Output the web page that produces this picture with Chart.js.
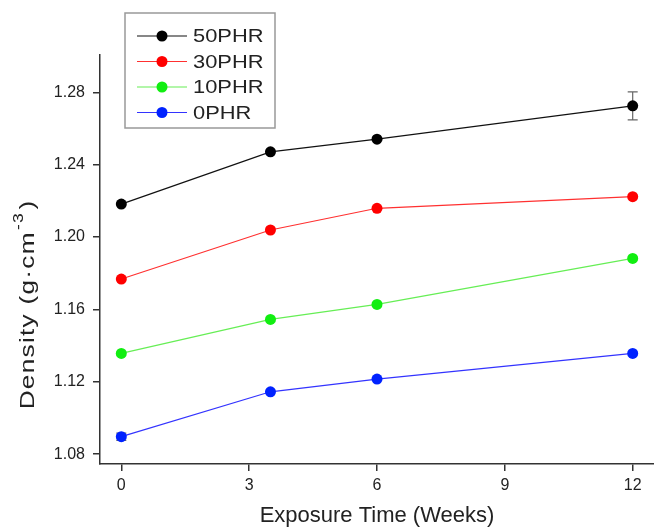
<!DOCTYPE html>
<html>
<head>
<meta charset="utf-8">
<script src="https://cdn.jsdelivr.net/npm/chart.js@4.4.1/dist/chart.umd.min.js"></script>
<style>
  html, body { margin: 0; padding: 0; background: #fff; }
  #wrap { width: 654px; height: 530px; }
</style>
</head>
<body>
<div id="wrap"><canvas id="densityChart"></canvas></div>
<script>
// exposure time (weeks) and density readings per PHR level
const weeks = [0, 3.5, 6, 12];
const seriesNames = ['50PHR', '30PHR', '10PHR', '0PHR'];
const phr50 = [1.2182, 1.2471, 1.2541, 1.2725];
const phr30 = [1.1768, 1.2039, 1.2159, 1.2223];
const phr10 = [1.1357, 1.1545, 1.1628, 1.1882];
const phr0 = [1.0897, 1.1145, 1.1215, 1.1357];
const err50 = [0, 0, 0, 0.0077];
const err30 = [0, 0, 0, 0];
const err10 = [0, 0, 0, 0];
const err0 = [0.002, 0, 0, 0];
const xTicks = [0, 3, 6, 9, 12];
const yTicks = [1.08, 1.12, 1.16, 1.20, 1.24, 1.28];

const lineColors = ['#111111', '#ff3030', '#66ee55', '#3333ff'];
const pointColors = ['#000000', '#ff0000', '#11ee11', '#0022ff'];
const allValues = [phr50, phr30, phr10, phr0];
const allErrors = [err50, err30, err10, err0];
const FONT = "'Liberation Sans', Arial, sans-serif";

const datasets = allValues.map((vals, i) => ({
  label: seriesNames[i],
  data: weeks.map((w, j) => ({ x: w, y: vals[j] })),
  borderColor: lineColors[i],
  borderWidth: 1.2,
  backgroundColor: pointColors[i],
  pointBackgroundColor: pointColors[i],
  pointBorderColor: pointColors[i],
  pointRadius: 5.5,
  pointBorderWidth: 0,
  tension: 0,
  fill: false,
}));

// error bars, drawn under the markers
const errorBars = {
  id: 'errorBars',
  beforeDatasetsDraw(chart) {
    const ctx = chart.ctx;
    const xs = chart.scales.x, ys = chart.scales.y;
    ctx.save();
    ctx.strokeStyle = '#666';
    ctx.lineWidth = 1.2;
    allValues.forEach((vals, i) => {
      vals.forEach((v, j) => {
        const e = allErrors[i][j];
        if (!e) return;
        const px = xs.getPixelForValue(weeks[j]);
        const top = ys.getPixelForValue(v + e);
        const bot = ys.getPixelForValue(v - e);
        ctx.beginPath();
        ctx.moveTo(px, top); ctx.lineTo(px, bot);
        ctx.moveTo(px - 5, top); ctx.lineTo(px + 5, top);
        ctx.moveTo(px - 5, bot); ctx.lineTo(px + 5, bot);
        ctx.stroke();
      });
    });
    ctx.restore();
  }
};

// boxed legend with line + marker samples, and the y axis title
const decorations = {
  id: 'decorations',
  afterDraw(chart) {
    const ctx = chart.ctx;
    ctx.save();
    // legend box
    ctx.fillStyle = '#fff';
    ctx.fillRect(125, 13, 150, 115);
    ctx.strokeStyle = '#999';
    ctx.lineWidth = 1.5;
    ctx.strokeRect(125, 13, 150, 115);
    seriesNames.forEach((name, i) => {
      const y = 36 + i * 25.5;
      ctx.strokeStyle = lineColors[i];
      ctx.lineWidth = 1.2;
      ctx.beginPath();
      ctx.moveTo(137, y); ctx.lineTo(187, y);
      ctx.stroke();
      ctx.fillStyle = pointColors[i];
      ctx.beginPath();
      ctx.arc(162, y, 5.5, 0, Math.PI * 2);
      ctx.fill();
      ctx.save();
      ctx.translate(193, y + 1);
      ctx.scale(1.15, 1);
      ctx.fillStyle = '#222';
      ctx.font = '19px ' + FONT;
      ctx.textAlign = 'left';
      ctx.textBaseline = 'middle';
      ctx.fillText(name, 0, 0);
      ctx.restore();
    });

    // y title: Density (g·cm-3) with superscript, stretched along its length
    const main1 = 'Density (g\u00b7cm', sup = '-3', main2 = ')';
    ctx.letterSpacing = '1px';
    ctx.font = '21px ' + FONT;
    const w1 = ctx.measureText(main1).width;
    const w3 = ctx.measureText(main2).width;
    ctx.font = '14px ' + FONT;
    const w2 = ctx.measureText(sup).width + 2;
    const total = w1 + w2 + w3;
    ctx.translate(28, 305);
    ctx.rotate(-Math.PI / 2);
    ctx.scale(1.25, 1);
    ctx.fillStyle = '#222';
    ctx.textAlign = 'left';
    ctx.textBaseline = 'middle';
    let cx = -total / 2;
    ctx.font = '21px ' + FONT;
    ctx.fillText(main1, cx, 0);
    cx += w1 + 1;
    ctx.font = '14px ' + FONT;
    ctx.fillText(sup, cx, -9);
    cx += w2;
    ctx.font = '21px ' + FONT;
    ctx.fillText(main2, cx, 0);
    ctx.restore();
  }
};

new Chart(document.getElementById('densityChart'), {
  type: 'line',
  data: { datasets },
  options: {
    responsive: true,
    maintainAspectRatio: false,
    animation: false,
    layout: { autoPadding: false, padding: { top: 55, right: 0, left: 0, bottom: 0 } },
    plugins: {
      legend: { display: false },
      tooltip: { enabled: false },
    },
    scales: {
      x: {
        type: 'linear',
        min: -0.5,
        max: 12.5,
        afterBuildTicks: s => { s.ticks = xTicks.map(v => ({ value: v })); },
        afterFit: s => { s.height = 66; s.paddingLeft = 0; s.paddingRight = 0; },
        grid: { display: true, drawOnChartArea: false, tickLength: 7, color: '#333', lineWidth: 1.5 },
        border: { display: true, color: '#333', width: 1.5 },
        ticks: { font: { family: FONT, size: 16 }, color: '#222', padding: 5, maxRotation: 0 },
        title: {
          display: true,
          text: 'Exposure Time (Weeks)',
          font: { family: FONT, size: 22 },
          color: '#222',
          padding: { top: 0, bottom: 1 },
        },
      },
      y: {
        type: 'linear',
        min: 1.0746,
        max: 1.3006,
        afterBuildTicks: s => { s.ticks = yTicks.map(v => ({ value: v })); },
        afterFit: s => { s.width = 100; s.paddingTop = 0; s.paddingBottom = 0; },
        grid: { display: true, drawOnChartArea: false, tickLength: 7, color: '#333', lineWidth: 1.5 },
        border: { display: true, color: '#333', width: 1.5 },
        ticks: { font: { family: FONT, size: 16 }, color: '#222', padding: 8, callback: v => v.toFixed(2) },
      },
    },
  },
  plugins: [errorBars, decorations],
});
</script>
</body>
</html>
